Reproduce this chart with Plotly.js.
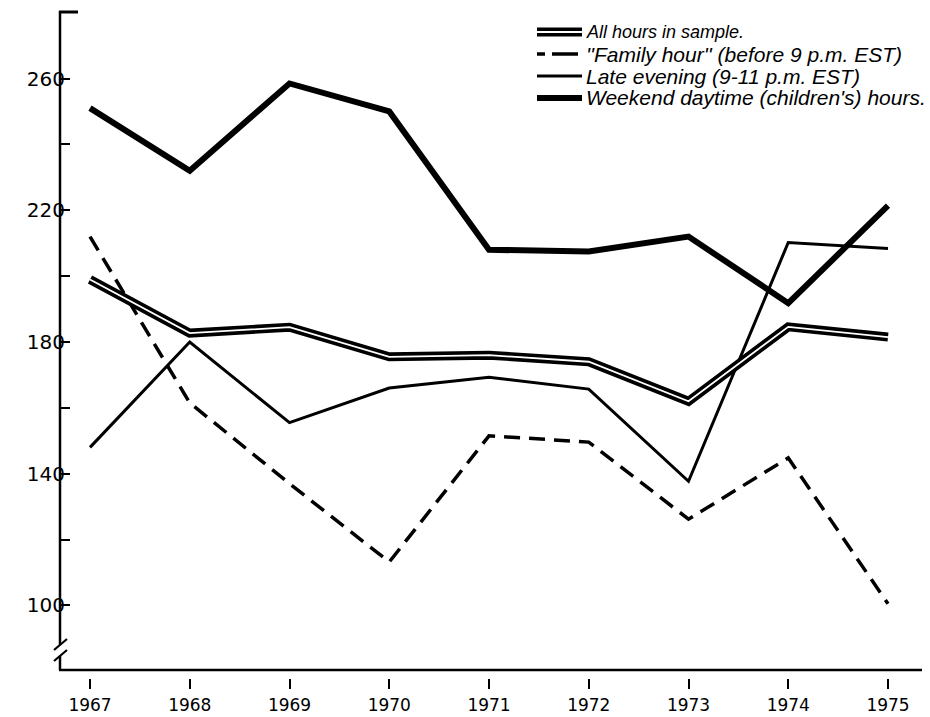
<!DOCTYPE html>
<html>
<head>
<meta charset="utf-8">
<script src="https://cdn.plot.ly/plotly-3.0.1.min.js"></script>
<style>html,body{margin:0;padding:0;background:#fff;}#chart{width:930px;height:717px;}</style>
</head>
<body>
<div id="chart"></div>
<script>
// ---- data ----
const years = [1967, 1968, 1969, 1970, 1971, 1972, 1973, 1974, 1975];
const allHours    = [199, 182.7, 184.5, 175.5, 176, 174, 162, 184.6, 181.5];
const familyHour  = [212, 161.5, 137, 113.2, 151.5, 149.6, 126.2, 144.8, 100.5];
const lateEvening = [148, 180, 155.5, 166, 169.3, 165.7, 137.7, 210.2, 208.4];
const weekendDay  = [251, 232, 258.5, 250, 208, 207.5, 212, 191.8, 221.4];
const yTickVals = [100, 120, 140, 160, 180, 200, 220, 240, 260];
const yTickText = ['100', '', '140', '', '180', '', '220', '', '260'];
const xTickText = years.map(String);
const seriesNames = [
  "All hours in sample.",
  "''Family hour'' (before 9 p.m. EST)",
  "Late evening (9-11 p.m. EST)",
  "Weekend daytime (children's) hours."
];

// ---- layout geometry ----
const W = 930, H = 717;
const M = {l: 60, r: 8, t: 12, b: 39};
const PW = W - M.l - M.r, PH = H - M.t - M.b;
const X = px => (px - M.l) / PW;
const Y = py => (H - M.b - py) / PH;
const yDomainStart = Y(670);
const yRange = [80.4, 280.2];

const black = '#000';
const traces = [
  {x: years, y: weekendDay, mode: 'lines', name: seriesNames[3],
   line: {color: black, width: 6}, showlegend: false},
  {x: years, y: lateEvening, mode: 'lines', name: seriesNames[2],
   line: {color: black, width: 3}, showlegend: false},
  {x: years, y: familyHour, mode: 'lines', name: seriesNames[1],
   line: {color: black, width: 3.5, dash: '16px,9px'}, showlegend: false},
  {x: years, y: allHours, mode: 'lines', name: seriesNames[0],
   line: {color: black, width: 9}, showlegend: false},
  {x: years, y: allHours, mode: 'lines', name: seriesNames[0] + ' (inner)',
   line: {color: '#fff', width: 1.8}, showlegend: false, hoverinfo: 'skip'},
  // invisible trace binding the tick-mark axis
  {x: [years[0]], y: [yTickVals[0]], yaxis: 'y2', mode: 'markers',
   marker: {opacity: 0}, showlegend: false, hoverinfo: 'skip'}
];

function seg(x0, y0, x1, y1, w, color) {
  return {type: 'line', xref: 'paper', yref: 'paper', layer: 'above',
          x0: X(x0), y0: Y(y0), x1: X(x1), y1: Y(y1),
          line: {color: color || black, width: w}};
}

const shapes = [
  // y axis with break
  seg(60, 11, 60, 645, 2.5),
  seg(60, 656, 60, 670, 2.5),
  seg(59, 12, 78, 12, 3),
  seg(54, 650, 67, 639, 2.2),
  seg(54, 661, 67, 650, 2.2),
  // x axis line
  seg(59, 670, 922, 670, 2.5),
];

// legend samples
const rowY = [32, 54, 76, 98];
shapes.push(seg(537, rowY[0], 582, rowY[0], 9));
shapes.push(seg(537, rowY[0], 582, rowY[0], 1.8, '#fff'));
shapes.push(seg(537, rowY[1], 545, rowY[1], 3.5));
shapes.push(seg(552, rowY[1], 578, rowY[1], 3.5));
shapes.push(seg(537, rowY[2], 582, rowY[2], 3));
shapes.push(seg(537, rowY[3], 582, rowY[3], 6));

const annotations = seriesNames.map((t, i) => ({
  text: t, xref: 'paper', yref: 'paper', x: X(584), y: Y(rowY[i]),
  xanchor: 'left', yanchor: 'middle', showarrow: false,
  font: {family: 'Liberation Sans, Arial, sans-serif', style: 'italic',
         size: i === 0 ? 18 : 21, color: black}
}));

const layout = {
  width: W, height: H,
  margin: M,
  paper_bgcolor: '#fff', plot_bgcolor: '#fff',
  showlegend: false,
  font: {family: 'DejaVu Sans, sans-serif', color: black},
  xaxis: {
    range: [1967 - 30 / 99.75, 1975 + 34 / 99.75],
    anchor: 'free', position: 0,
    showgrid: false, zeroline: false, showline: false,
    tickmode: 'array', tickvals: years, ticktext: xTickText,
    ticks: 'outside', ticklen: 10, tickwidth: 2, tickcolor: black,
    ticklabelstandoff: 2,
    tickfont: {family: 'DejaVu Sans, sans-serif', size: 17, color: black}
  },
  yaxis: {
    domain: [yDomainStart, 1],
    range: yRange,
    anchor: 'free', position: X(67),
    showgrid: false, zeroline: false, showline: false,
    tickmode: 'array', tickvals: yTickVals, ticktext: yTickText,
    ticks: '',
    ticklabelstandoff: 2,
    tickfont: {family: 'DejaVu Sans, sans-serif', size: 20, color: black}
  },
  yaxis2: {
    overlaying: 'y', side: 'left', anchor: 'x',
    range: yRange,
    showgrid: false, zeroline: false, showline: false,
    tickmode: 'array', tickvals: yTickVals,
    showticklabels: false,
    ticks: 'inside', ticklen: 10, tickwidth: 2, tickcolor: black
  },
  shapes: shapes,
  annotations: annotations
};

Plotly.newPlot('chart', traces, layout, {displayModeBar: false, staticPlot: true});
</script>
</body>
</html>
